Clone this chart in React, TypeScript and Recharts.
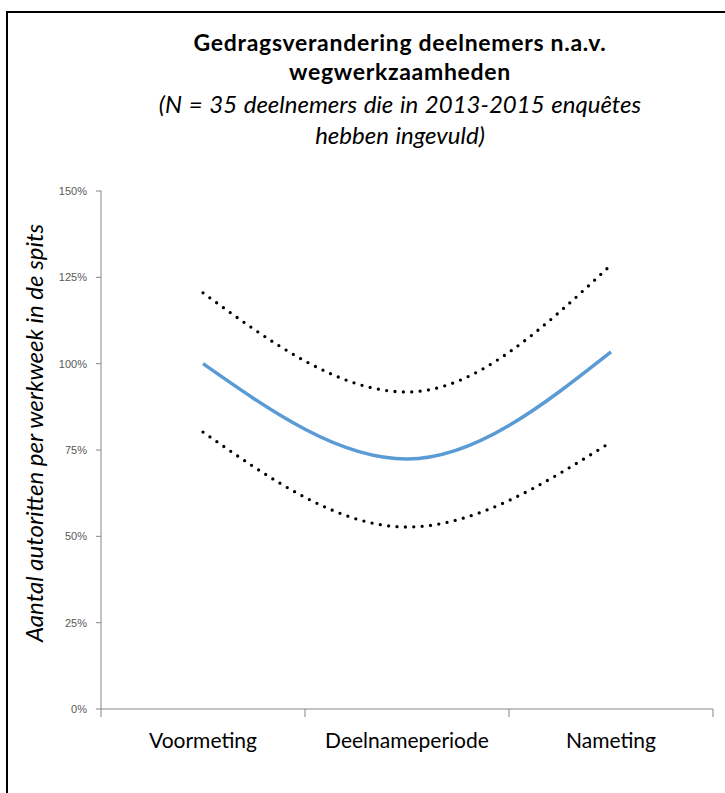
import React from "react";
import { LineChart, Line, XAxis, YAxis } from "recharts";

const categories = ["Voormeting", "Deelnameperiode", "Nameting"];
const gemiddeld = [100, 72.4, 103.4];
const bovengrens = [120.5, 91.8, 128.6];
const ondergrens = [80.2, 52.7, 77.3];
const yTicks = [0, 25, 50, 75, 100, 125, 150];

const W = 725;
const H = 793;
const margin = { top: 191, right: 12, bottom: 44, left: 41 };
const Y_AXIS_W = 60;
const X_AXIS_H = 40;
const plotW = W - margin.left - margin.right - Y_AXIS_W;
const band = plotW / categories.length;

const data = categories.map((cat, i) => ({
  cat,
  gemiddeld: gemiddeld[i],
  boven: bovengrens[i],
  onder: ondergrens[i],
}));

const font = "Lato, 'Open Sans', sans-serif";
const axisGrey = "#868686";

const XTick = (props: any) => {
  const { x, y, payload, index } = props;
  return (
    <g>
      {index === 0 && (
        <line x1={x - band / 2} x2={x - band / 2} y1={y} y2={y + 8} stroke={axisGrey} />
      )}
      <line x1={x + band / 2} x2={x + band / 2} y1={y} y2={y + 8} stroke={axisGrey} />
      <text x={x} y={y + 39} textAnchor="middle" fontFamily={font} fontSize={21} fill="#000">
        {payload.value}
      </text>
    </g>
  );
};

const YTick = (props: any) => {
  const { x, y, payload } = props;
  return (
    <text
      x={x}
      y={y + 4}
      textAnchor="end"
      fontFamily="'Liberation Sans', Arial, sans-serif"
      fontSize={11}
      fill="#595959"
    >
      {`${payload.value}%`}
    </text>
  );
};

export default function App() {
  return (
    <div
      style={{
        position: "absolute",
        left: 0,
        top: 0,
        width: W,
        height: H,
        background: "#fff",
        overflow: "hidden",
      }}
    >
      <div
        style={{
          position: "absolute",
          left: 6,
          top: 11,
          right: 0,
          bottom: 0,
          borderLeft: "2px solid #000",
          borderTop: "2px solid #000",
        }}
      />
      <div
        style={{
          position: "absolute",
          left: 60,
          width: 680,
          top: 28,
          textAlign: "center",
          fontFamily: font,
          color: "#000",
        }}
      >
        <div style={{ fontWeight: 700, fontSize: 23, lineHeight: "29px", letterSpacing: 0.7 }}>
          Gedragsverandering deelnemers n.a.v.
          <br />
          wegwerkzaamheden
        </div>
        <div style={{ fontStyle: "italic", fontSize: 24, lineHeight: "31px", marginTop: 2, wordSpacing: 1 }}>
          (N = 35 deelnemers die in 2013-2015 enquêtes
          <br />
          hebben ingevuld)
        </div>
      </div>
      <div
        style={{
          position: "absolute",
          left: 33,
          top: 433,
          transform: "translate(-50%, -50%) rotate(-90deg)",
          whiteSpace: "nowrap",
          fontFamily: font,
          fontStyle: "italic",
          fontSize: 24,
          color: "#000",
        }}
      >
        Aantal autoritten per werkweek in de spits
      </div>
      <div style={{ position: "absolute", left: 0, top: 0 }}>
        <LineChart width={W} height={H} data={data} margin={margin}>
          <XAxis
            dataKey="cat"
            height={X_AXIS_H}
            padding={{ left: band / 2, right: band / 2 }}
            stroke={axisGrey}
            tickLine={false}
            tickSize={0}
            tickMargin={0}
            tick={<XTick />}
            interval={0}
          />
          <YAxis
            width={Y_AXIS_W}
            domain={[0, 150]}
            ticks={yTicks}
            stroke={axisGrey}
            tickSize={5}
            tickMargin={9}
            tick={<YTick />}
          />
          <Line
            type="monotone"
            dataKey="boven"
            stroke="#000"
            strokeWidth={3.3}
            strokeDasharray="0 8.4"
            strokeLinecap="round"
            dot={false}
            activeDot={false}
            isAnimationActive={false}
          />
          <Line
            type="monotone"
            dataKey="onder"
            stroke="#000"
            strokeWidth={3.3}
            strokeDasharray="0 8.4"
            strokeLinecap="round"
            dot={false}
            activeDot={false}
            isAnimationActive={false}
          />
          <Line
            type="monotone"
            dataKey="gemiddeld"
            stroke="#5B9BD5"
            strokeWidth={3.5}
            dot={false}
            activeDot={false}
            isAnimationActive={false}
          />
        </LineChart>
      </div>
    </div>
  );
}
